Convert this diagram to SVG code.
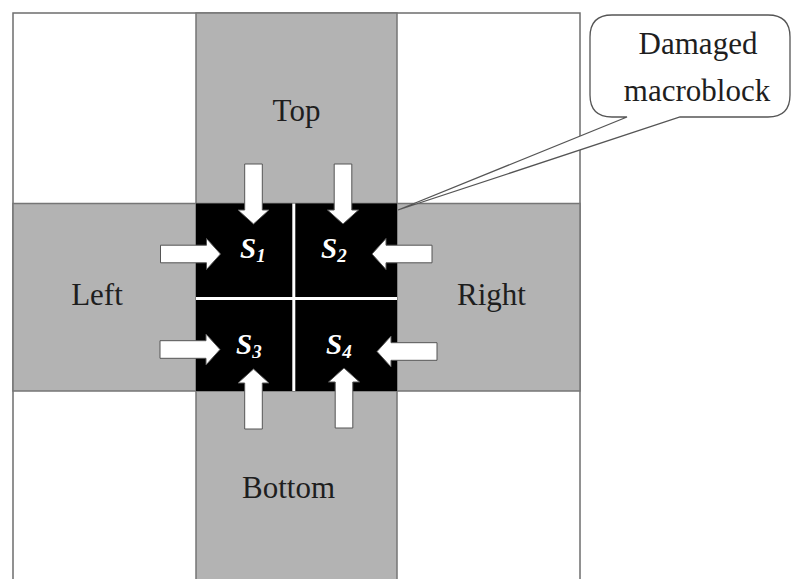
<svg xmlns="http://www.w3.org/2000/svg" xmlns:xlink="http://www.w3.org/1999/xlink" width="792" height="579" viewBox="0 0 792 579">
  <style>
    .white { fill: #ffffff; stroke: #6e6e6e; stroke-width: 1.5; }
    .band { fill: #b3b3b3; stroke: #767676; stroke-width: 1.5; }
    .lbl { font-family: "Liberation Serif", "Times New Roman", serif; font-size: 31px; fill: #1e1e1e; text-anchor: middle; }
    .s { font-family: "Liberation Serif", "Times New Roman", serif; font-size: 29px; font-weight: bold; font-style: italic; fill: #ffffff; }
    .sub { font-size: 19px; }
    .arrow { fill: #ffffff; stroke: #555555; stroke-width: 1; }
    .callout { fill: #ffffff; stroke: #555555; stroke-width: 1.3; }
  </style>
  <defs>
    <polygon id="arr" points="0,0 -14,-15.5 -14,-8.8 -60,-8.8 -60,8.8 -14,8.8 -14,15.5"/>
  </defs>
  <rect width="792" height="579" fill="#ffffff"/>

  <g id="frame">
    <rect class="white" x="13" y="13" width="567" height="580"/>
  </g>
  <g id="top">
    <rect class="band" x="196" y="13" width="201" height="190.5"/>
    <text class="lbl" x="296.5" y="120.5">Top</text>
  </g>
  <g id="left">
    <rect class="band" x="13" y="203.5" width="183" height="187.5"/>
    <text class="lbl" x="97" y="305">Left</text>
  </g>
  <g id="right">
    <rect class="band" x="397" y="203.5" width="183" height="187.5"/>
    <text class="lbl" x="491.5" y="305">Right</text>
  </g>
  <g id="bottom">
    <rect class="band" x="196" y="391" width="201" height="200"/>
    <text class="lbl" x="288.5" y="498">Bottom</text>
  </g>
  <g id="damaged-macroblock">
    <rect x="196" y="203.5" width="201" height="187.5" fill="#000000"/>
    <line x1="293.8" y1="203.5" x2="293.8" y2="391" stroke="#ffffff" stroke-width="3"/>
    <line x1="196" y1="298.5" x2="397" y2="298.5" stroke="#ffffff" stroke-width="3"/>
  </g>
  <g id="s1"><text class="s" x="240" y="258">S<tspan class="sub" dy="4">1</tspan></text></g>
  <g id="s2"><text class="s" x="321" y="258">S<tspan class="sub" dy="4">2</tspan></text></g>
  <g id="s3"><text class="s" x="236" y="354">S<tspan class="sub" dy="4">3</tspan></text></g>
  <g id="s4"><text class="s" x="326" y="354">S<tspan class="sub" dy="4">4</tspan></text></g>

  <g id="connectors">
    <use xlink:href="#arr" class="arrow" transform="translate(253.5,224) rotate(90)"/>
    <use xlink:href="#arr" class="arrow" transform="translate(343,224) rotate(90)"/>
    <use xlink:href="#arr" class="arrow" transform="translate(220.5,254) rotate(0)"/>
    <use xlink:href="#arr" class="arrow" transform="translate(372,254) rotate(180)"/>
    <use xlink:href="#arr" class="arrow" transform="translate(220,349.5) rotate(0)"/>
    <use xlink:href="#arr" class="arrow" transform="translate(377,351.5) rotate(180)"/>
    <use xlink:href="#arr" class="arrow" transform="translate(253.5,369) rotate(-90)"/>
    <use xlink:href="#arr" class="arrow" transform="translate(344,368) rotate(-90)"/>
  </g>

  <g id="callout">
    <path class="callout" d="M612,15 H768 Q790,15 790,37 V95 Q790,117 768,117 H680 L398,210 L627,117 H612 Q590,117 590,95 V37 Q590,15 612,15 Z"/>
    <text class="lbl" x="698" y="54">Damaged</text>
    <text class="lbl" x="697" y="101">macroblock</text>
  </g>
</svg>
